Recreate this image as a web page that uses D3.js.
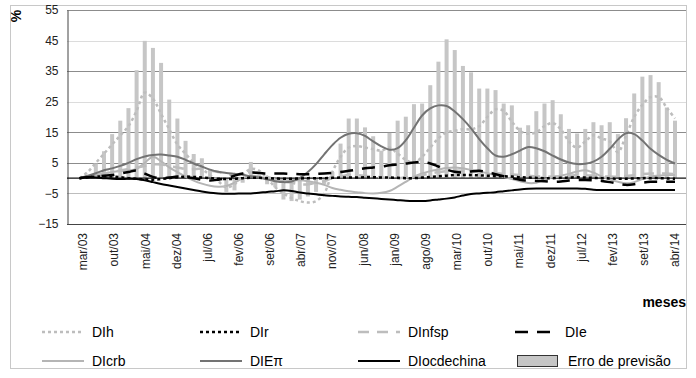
<!DOCTYPE html>
<html>
<head>
<meta charset="utf-8">
<script src="https://cdn.jsdelivr.net/npm/d3@7"></script>
<style>
  body { margin: 0; background: white; }
  text { font-family: "Liberation Sans Narrow", "Arial Narrow", "Liberation Sans", sans-serif; }
</style>
</head>
<body>
<script>
// x labels as printed in the source (one every 7 months)
const monthLabels = ["mar/03", "out/03", "mai/04", "dez/04", "jul/06", "fev/06", "set/06", "abr/07", "nov/07", "jun/08",
    "jan/09", "ago/09", "mar/10", "out/10", "mai/11", "dez/11", "jul/12", "fev/13", "set/13", "abr/14"];
const yTicks = [-15, -5, 5, 15, 25, 35, 45, 55];

// series, one value per observation (74 obs)
const erroPrevisao = [0, 1, 4.8, 8.8, 14.4, 18.8, 22.9, 35.3, 44.9, 42.6, 37.7, 25.7, 19.5, 12.2, 7.9, 6.5, 3, -1, -4.5, -4,
    -1.5, 5.3, 1, -2, -3, -7, -7.5, -7, -6, -4.5, -2, 2, 11.3, 19.5, 19.5, 16.6, 13.7, 9, 14.8, 18.8,
    20.1, 24.2, 24.4, 30.4, 38.1, 45.4, 41.9, 36.7, 34.6, 29.3, 29.3, 28.8, 24.4, 23.8, 16.5, 17.3, 21.9, 24.4, 25.5, 20.9,
    16.1, 14.6, 16.1, 18.3, 17.3, 18.3, 14.4, 19.6, 27.7, 33.2, 33.7, 31.4, 23.1, 18.8];
const DIh = [0, 2, 5, 8, 11, 14, 17, 22, 28, 26, 21, 16, 11, 8, 5, 3, 1, -1, -3, -2,
    1, 3, 2.5, 0, -3, -5, -6.5, -7.5, -8, -7.5, -5, 2, 7, 10, 10.5, 10, 9.5, 9, 10, 8,
    6, 5, 7, 10, 13, 15, 15.5, 16, 16, 17, 20, 22.5, 22, 18.5, 15.5, 14.5, 15, 17, 18, 16,
    12, 10, 12, 14, 13, 12, 8.5, 14, 20, 24, 26.5, 26.5, 23, 19.5];
const DIr = [0, 0.3, 0.5, 0.6, 0.5, 0.3, 0, -0.2, -0.4, -0.5, -0.3, 0, 0.3, 0.5, 0.4, 0.2, 0, -0.2, -0.3, -0.2,
    0, 0.1, 0.1, 0, -0.1, -0.2, -0.2, -0.1, 0, 0, 0, 0.1, 0.2, 0.2, 0.2, 0.3, 0.3, 0.2, 0.2, 0.1,
    0, 0, 0.2, 0.4, 0.6, 0.8, 1, 1, 1, 0.9, 0.8, 0.7, 0.6, 0.5, 0.3, 0.2, 0.1, 0, 0, 0.1,
    0.2, 0.3, 0.2, 0.1, 0, -0.1, -0.2, -0.2, -0.1, 0, 0, 0, -0.1, -0.2];
const DInfsp = [0, 0.5, 1, 1.5, 2, 2.5, 3, 3.5, 4, 4.5, 4.5, 4, 3.5, 3, 3, 3, 2.5, 2, 1.5, 1,
    1.5, 2, 1.5, 0.5, -0.5, -1, -1.5, -2, -2, -1.5, -1, 0, 0.5, 1, 1, 0.8, 0.5, 0.3, 0, 0,
    0.2, 0.5, 1, 1.5, 2, 2.3, 2.5, 2.4, 2.2, 2, 1.8, 1.6, 1.4, 1.2, 1, 0.8, 0.6, 0.5, 0.5, 0.6,
    0.8, 1, 1, 0.8, 0.6, 0.5, 0.5, 0.7, 1, 1.3, 1.5, 1.5, 1.5, 1.3];
const DIe = [0, 0.3, 0.6, 0.8, 1, 1.5, 2, 2.5, 1.5, 0.4, 0, 0.2, 0.5, 0.3, 0, -0.5, -0.8, -0.5, 0, 0.8,
    1.5, 1.8, 1.7, 1.5, 1.5, 1.5, 1.4, 1.3, 1.3, 1.4, 1.5, 1.7, 2, 2.4, 2.8, 3.2, 3.5, 3.8, 4.2, 4.5,
    4.8, 5.1, 5.3, 4.8, 3.8, 2.8, 2.1, 1.8, 2.2, 2.4, 2, 1.3, 0.6, 0, -0.5, -0.8, -0.9, -1, -1.2, -1.1,
    -0.8, -0.6, -0.6, -0.7, -0.9, -1.3, -1.8, -2.2, -2, -1.5, -1.2, -1.2, -1.2, -1.2];
const DIcrb = [0, 0.5, 1, 1.5, 2, 2.3, 2.5, 3, 5, 7, 5.5, 3.5, 2, 0.5, -0.8, -1.8, -2.5, -2.8, -2.6, -1.5,
    0, 0.8, 0.5, 0, -0.5, -0.7, -0.7, -0.7, -1, -1.5, -2.2, -3.2, -3.8, -4.3, -4.6, -4.9, -5, -4.8, -4.2, -2.8,
    -1.2, 0.5, 1.5, 2.3, 2.8, 3.3, 3.5, 3.2, 2.7, 2.2, 1.6, 1, 0.4, -0.3, -1, -1.6, -1.5, -0.5, 0.3, 0.8,
    1.4, 2.2, 2.6, 1.8, 0.6, -0.5, -1.2, -1.7, -1.3, -0.3, 0.5, 0.8, 1, 1];
const DIEpi = [0, 0.8, 1.6, 2.6, 3.2, 4, 5, 6.2, 7.1, 7.6, 7.7, 7.4, 7, 6, 4.8, 3.8, 2.8, 2.1, 1.7, 1.4,
    1.1, 0.6, 0.2, -0.4, -1, -1.3, -1.1, 0, 2, 4.6, 7.8, 10.8, 13.2, 14.5, 14.7, 13.8, 12, 10.4, 9.3, 9.8,
    12.4, 16.5, 20.5, 22.8, 23.8, 23.6, 21.8, 19.3, 16.3, 12.8, 9.8, 7.4, 7, 7.8, 9, 10.2, 9.8, 8.8, 7.4, 6.1,
    5.1, 4.6, 4.7, 5.4, 7, 9.6, 12.6, 14.7, 14.4, 12.3, 9.6, 7.6, 6, 4.8];
const DIocdechina = [0, 0.3, 0.2, 0, -0.2, -0.3, -0.2, -0.3, -0.7, -1.3, -1.9, -2.4, -2.9, -3.4, -3.9, -4.4, -4.8, -5, -5.1, -5.1,
    -5, -5, -4.8, -4.5, -4.3, -4, -4.2, -4.7, -5, -5.3, -5.6, -5.8, -6, -6.1, -6.2, -6.4, -6.6, -6.8, -7, -7.2,
    -7.4, -7.5, -7.5, -7.3, -7, -6.7, -6.3, -5.7, -5.2, -5, -4.8, -4.6, -4.3, -4, -3.7, -3.5, -3.4, -3.4, -3.4, -3.4,
    -3.4, -3.4, -3.5, -3.8, -3.9, -3.9, -3.9, -3.9, -3.9, -3.9, -3.9, -3.9, -3.9, -3.9];

const W = 696, H = 378;
const svg = d3.select("body").append("svg")
    .attr("width", W)
    .attr("height", H);

// outer frame
svg.append("rect")
    .attr("x", 10.5).attr("y", 5.5)
    .attr("width", 676).attr("height", 363)
    .attr("fill", "none")
    .attr("stroke", "#c8c8c8");

const plotL = 67, plotR = 686, plotT = 10, plotB = 224;

const y = d3.scaleLinear().domain([-15, 55]).range([plotB, plotT]);
const x = d3.scaleLinear().domain([0, erroPrevisao.length - 1]).range([79.5, 675]);
const xLab = d3.scalePoint().domain(monthLabels).range([83, 675]);

// gridlines
const gridColor = {"55": "#8c8c8c", "45": "#dcdcdc", "35": "#8c8c8c", "25": "#dcdcdc", "15": "#8c8c8c", "5": "#8c8c8c", "-5": "#bdbdbd"};
svg.append("g").selectAll("line")
    .data(yTicks.filter(d => d > -15))
    .join("line")
    .attr("x1", plotL).attr("x2", plotR)
    .attr("y1", d => Math.round(y(d)) + 0.5).attr("y2", d => Math.round(y(d)) + 0.5)
    .attr("stroke", d => gridColor[d]);

// y axis
const yAxis = svg.append("g")
    .attr("transform", `translate(${plotL + 0.5},0)`)
    .call(d3.axisLeft(y).tickValues(yTicks).tickSize(0).tickPadding(9).tickFormat(d => d < 0 ? "\u2212" + Math.abs(d) : d));
yAxis.select(".domain").attr("stroke", "#444");
yAxis.selectAll("text").attr("font-size", 12).attr("fill", "#222")
    .style("font-family", "'Liberation Sans Narrow', 'Arial Narrow', sans-serif");

// bottom axis line
svg.append("line")
    .attr("x1", plotL).attr("x2", plotR)
    .attr("y1", plotB + 0.5).attr("y2", plotB + 0.5)
    .attr("stroke", "#444");

// x labels (rotated)
svg.append("g").selectAll("text")
    .data(monthLabels)
    .join("text")
    .attr("transform", d => `translate(${xLab(d)},233) rotate(-90)`)
    .attr("text-anchor", "end")
    .attr("dy", "0.35em")
    .attr("font-size", 12)
    .attr("fill", "#222")
    .text(d => d);

// bars - Erro de previsão
svg.append("g").selectAll("rect")
    .data(erroPrevisao)
    .join("rect")
    .attr("x", (d, i) => x(i) - 2)
    .attr("width", 4)
    .attr("y", d => y(Math.max(0, d)))
    .attr("height", d => Math.abs(y(d) - y(0)))
    .attr("fill", "#c6c6c6");

// zero line
svg.append("line")
    .attr("x1", plotL).attr("x2", plotR)
    .attr("y1", y(0)).attr("y2", y(0))
    .attr("stroke", "#111")
    .attr("stroke-width", 1.2);

const series = [
    {name: "DIh", values: DIh, color: "#bdbdbd", width: 2.5, dash: "3,3"},
    {name: "DIr", values: DIr, color: "#000", width: 2.5, dash: "3,3"},
    {name: "DInfsp", values: DInfsp, color: "#bdbdbd", width: 2.5, dash: "11,8"},
    {name: "DIe", values: DIe, color: "#000", width: 2.5, dash: "13,9"},
    {name: "DIcrb", values: DIcrb, color: "#b5b5b5", width: 2, dash: null},
    {name: "DIE\u03c0", values: DIEpi, color: "#737373", width: 2, dash: null},
    {name: "DIocdechina", values: DIocdechina, color: "#000", width: 2, dash: null}
];

const line = d3.line()
    .x((d, i) => x(i))
    .y(d => y(d))
    .curve(d3.curveCatmullRom.alpha(0.5));

// draw order: grey ones first so black ones stay on top
const drawOrder = ["DIcrb", "DIh", "DInfsp", "DIE\u03c0", "DIocdechina", "DIr", "DIe"];
drawOrder.forEach(nm => {
    const s = series.find(d => d.name === nm);
    svg.append("path")
        .attr("d", line(s.values))
        .attr("fill", "none")
        .attr("stroke", s.color)
        .attr("stroke-width", s.width)
        .attr("stroke-dasharray", s.dash);
});

// % label
svg.append("text")
    .attr("transform", "translate(21,16) rotate(-90)")
    .attr("text-anchor", "middle")
    .attr("font-size", 14)
    .attr("font-weight", "bold")
    .text("%");

// meses
svg.append("text")
    .attr("x", 686).attr("y", 307)
    .attr("text-anchor", "end")
    .attr("font-size", 14)
    .attr("font-weight", "bold")
    .text("meses");

// legend
const legendPos = [
    {x: 42, y: 332}, {x: 200, y: 332}, {x: 358, y: 332}, {x: 515, y: 332},
    {x: 42, y: 361}, {x: 200, y: 361}, {x: 358, y: 361}
];
const legendItems = series.map((s, i) => ({...s, ...legendPos[i]}));
const leg = svg.append("g");
legendItems.forEach(s => {
    leg.append("line")
        .attr("x1", s.x).attr("x2", s.x + 42)
        .attr("y1", s.y).attr("y2", s.y)
        .attr("stroke", s.color)
        .attr("stroke-width", s.width)
        .attr("stroke-dasharray", s.dash);
    leg.append("text")
        .attr("x", s.x + 50).attr("y", s.y)
        .attr("dy", "0.35em")
        .attr("font-size", 14)
        .text(s.name);
});
// bar swatch
leg.append("rect")
    .attr("x", 517.5).attr("y", 355.5)
    .attr("width", 40).attr("height", 11)
    .attr("fill", "#c6c6c6")
    .attr("stroke", "#333");
leg.append("text")
    .attr("x", 568).attr("y", 361)
    .attr("dy", "0.35em")
    .attr("font-size", 14)
    .text("Erro de previsão");
</script>
</body>
</html>
